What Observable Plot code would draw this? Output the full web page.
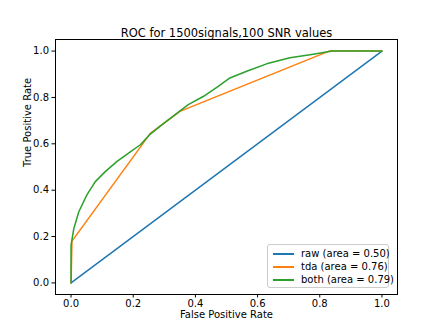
<!DOCTYPE html>
<html>
<head>
<meta charset="utf-8">
<script src="https://cdn.jsdelivr.net/npm/d3@7"></script>
<script src="https://cdn.jsdelivr.net/npm/@observablehq/plot@0.6"></script>
<style>
  html, body { margin: 0; padding: 0; background: #fff; }
  #wrap { position: relative; width: 441px; height: 330px; font-family: "DejaVu Sans", sans-serif; }
  #legend { position: absolute; left: 267px; top: 244px; width: 122px; height: 44px;
    border: 1px solid #cccccc; border-radius: 3px; background: rgba(255,255,255,0.8);
    font-size: 10px; color: #000; box-sizing: border-box; padding-top: 2px; white-space: nowrap; }
  .row { display: flex; align-items: center; height: 13px; }
  .sw { display: block; flex: none; width: 21px; height: 2px; margin-left: 5px; margin-right: 7px; }
</style>
</head>
<body>
<div id="wrap"></div>
<script>
const title = "ROC for 1500signals,100 SNR values";
const xLabel = "False Positive Rate";
const yLabel = "True Positive Rate";
const seriesNames = ["raw", "tda", "both"];
const seriesAreas = [0.50, 0.76, 0.79];
const seriesColors = ["#1f77b4", "#ff7f0e", "#2ca02c"];
const ticks = [0, 0.2, 0.4, 0.6, 0.8, 1.0];

const rawFpr = [0, 1];
const rawTpr = [0, 1];
const tdaFpr = [0, 0.003, 0.255, 0.35, 0.83, 1];
const tdaTpr = [0, 0.18, 0.645, 0.74, 1.0, 1.0];
const bothFpr = [0, 0, 0.009, 0.025, 0.051, 0.078, 0.11, 0.148, 0.185, 0.223, 0.255, 0.293, 0.335, 0.377, 0.425, 0.47, 0.511, 0.565, 0.629, 0.704, 0.779, 0.84, 1.0];
const bothTpr = [0, 0.163, 0.235, 0.307, 0.38, 0.437, 0.48, 0.524, 0.56, 0.596, 0.642, 0.683, 0.726, 0.769, 0.804, 0.845, 0.884, 0.913, 0.945, 0.971, 0.986, 1.0, 1.0];

const toRows = (name, xs, ys) => xs.map((x, i) => ({series: name, fpr: x, tpr: ys[i]}));
const rows = [
  ...toRows(seriesNames[0], rawFpr, rawTpr),
  ...toRows(seriesNames[1], tdaFpr, tdaTpr),
  ...toRows(seriesNames[2], bothFpr, bothTpr)
];

const chart = Plot.plot({
  width: 441,
  height: 330,
  marginLeft: 55,
  marginRight: 44,
  marginTop: 39,
  marginBottom: 36,
  style: {fontFamily: "DejaVu Sans, sans-serif", fontSize: "10px", color: "#000", background: "#fff"},
  x: {domain: [-0.05, 1.05]},
  y: {domain: [-0.05, 1.05]},
  color: {domain: seriesNames, range: seriesColors},
  marks: [
    Plot.axisX({ticks, tickFormat: d3.format(".1f"), tickSize: 3.5, tickPadding: 2, label: null, fontSize: 10}),
    Plot.axisY({ticks, tickFormat: d3.format(".1f"), tickSize: 3.5, tickPadding: 3, label: null, fontSize: 10}),
    Plot.line(rows, {x: "fpr", y: "tpr", z: "series", stroke: "series", strokeWidth: 1.5}),
    Plot.frame({stroke: "#000", strokeWidth: 1}),
    Plot.text([title], {text: d => d, frameAnchor: "top", dy: -11, fontSize: 11.5}),
    Plot.text([xLabel], {text: d => d, frameAnchor: "bottom", dy: 23, fontSize: 10}),
    Plot.text([yLabel], {text: d => d, frameAnchor: "left", dx: -28, rotate: -90, fontSize: 10})
  ]
});

const wrap = document.getElementById("wrap");
wrap.appendChild(chart);
const legend = document.createElement("div");
legend.id = "legend";
seriesNames.forEach((n, i) => {
  const row = document.createElement("div");
  row.className = "row";
  const sw = document.createElement("span");
  sw.className = "sw";
  sw.style.backgroundColor = seriesColors[i];
  const t = document.createElement("span");
  t.textContent = `${n} (area = ${seriesAreas[i].toFixed(2)})`;
  row.appendChild(sw);
  row.appendChild(t);
  legend.appendChild(row);
});
wrap.appendChild(legend);
</script>
</body>
</html>
